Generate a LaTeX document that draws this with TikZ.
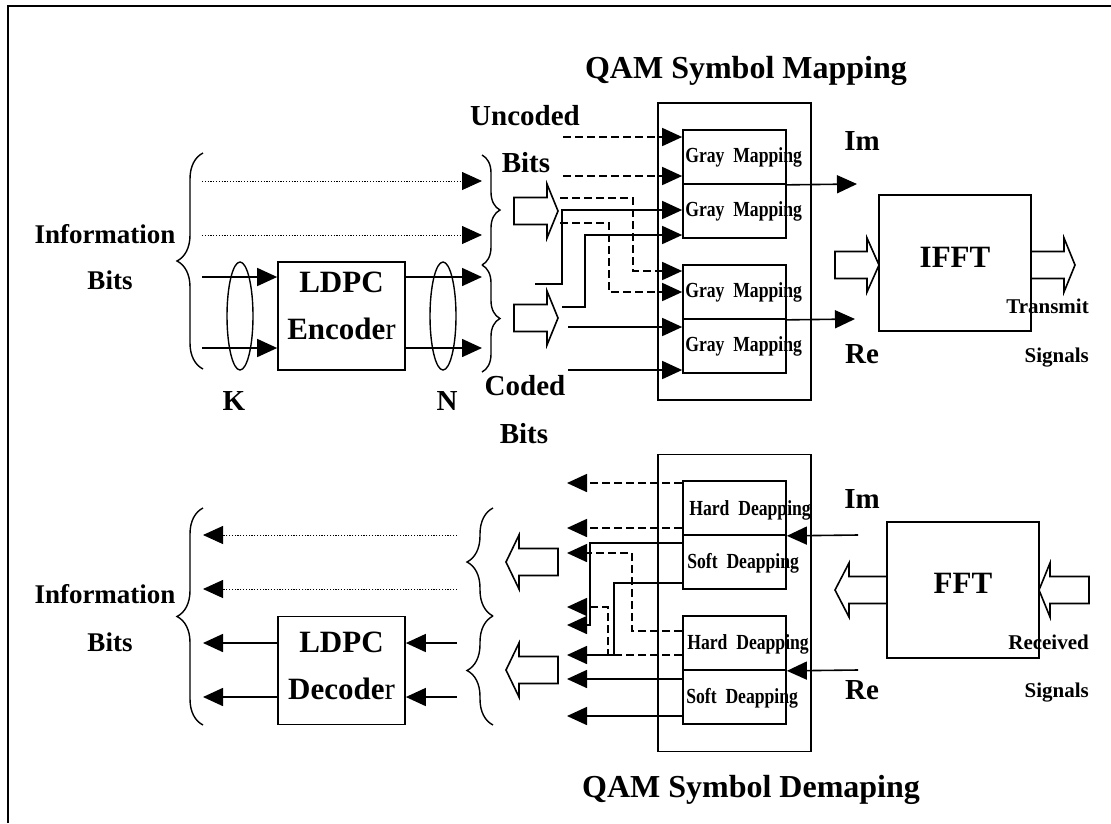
\documentclass[tikz,border=0pt]{standalone}
\usepackage{fontspec}
\setmainfont{Liberation Serif}
\newfontfamily\narrowfont{Liberation Serif}[FakeStretch=0.82]
\usetikzlibrary{arrows.meta,shapes.geometric,decorations.pathreplacing}
\newcommand{\hollowarrow}[4]{%
  \draw[fat] (#1,#4-13.5) -- (#2,#4-13.5) -- (#2,#4-27) -- (#3,#4)
    -- (#2,#4+27) -- (#2,#4+13.5) -- (#1,#4+13.5) -- cycle;}

\begin{document}
\begin{tikzpicture}[x=1pt, y=-1pt,
  arr/.style={-{Triangle[length=20pt,width=18pt]}, line width=1.6pt},
  darr/.style={arr, dash pattern=on 8pt off 4pt},
  oarr/.style={arr, line width=0.9pt, dash pattern=on 1.2pt off 1.6pt},
  blk/.style={draw, line width=1.7pt, inner sep=0pt},
  mbox/.style={blk, minimum width=153pt, minimum height=297pt},
  ibox/.style={blk, minimum width=103pt, minimum height=54pt},
  cbox/.style={blk, minimum width=127pt, minimum height=108pt, align=center,
               font=\fontsize{31}{47}\selectfont\bfseries},
  fbox/.style={blk, minimum width=152pt, minimum height=136pt,
               font=\fontsize{31}{36}\selectfont\bfseries},
  ttl/.style={inner sep=0pt, anchor=base, font=\fontsize{32}{38}\selectfont\bfseries},
  lbl/.style={inner sep=0pt, anchor=base, font=\fontsize{29}{34}\selectfont\bfseries},
  inf/.style={inner sep=0pt, anchor=base, font=\fontsize{27}{32}\selectfont\bfseries},
  sig/.style={inner sep=0pt, anchor=base east, font=\fontsize{21}{25}\selectfont\bfseries},
  mtxt/.style={inner sep=0pt, anchor=west, font=\narrowfont\fontsize{21.5}{25}\selectfont\bfseries},
  ell/.style={draw, ellipse, line width=1.4pt, minimum width=26pt, minimum height=108pt, inner sep=0pt},
  brc/.style={decorate, decoration={brace, amplitude=#1}, line width=1.4pt},
  fat/.style={line width=1.6pt, fill=white},
]
\useasboundingbox (0,0) rectangle (1111,823);
\draw[line width=2.4pt] (8,823) -- (8,6) -- (1111,6);

\node[ttl] (ttlmap) at (746,78) {QAM Symbol Mapping};
\node[ttl] (ttldem) at (751,797) {QAM Symbol Demaping};

\node[inf] (infoT) at (105,243) {Information};
\node[inf] (bitsT) at (110,289) {Bits};
\node[inf] (infoR) at (105,603) {Information};
\node[inf] (bitsR) at (110,651) {Bits};

\node[cbox, text depth=20pt] (enc) at (341.5,316) {LDPC\\Encode{\mdseries r}};
\node[cbox, text depth=9pt]  (dec) at (341.5,670.5) {LDPC\\Decode{\mdseries r}};
\node[ell] (kE) at (240,316) {};
\node[ell] (nE) at (443,316) {};
\node[lbl] (kL) at (234,410) {K};
\node[lbl] (nL) at (447,410) {N};

\node[lbl] (uncL)  at (525,125) {Uncoded};
\node[lbl] (ubitL) at (526,172) {Bits};
\node[lbl] (codL)  at (525,395) {Coded};
\node[lbl] (cbitL) at (524,443) {Bits};

\node[mbox] (qm) at (734.5,251.5) {};
\node[ibox] (gm1) at (734.5,157) {};
\node[ibox] (gm2) at (734.5,211) {};
\node[ibox] (gm3) at (734.5,292) {};
\node[ibox] (gm4) at (734.5,346) {};
\node[mtxt] (gm1t) at ([xshift=3pt]gm1.west) {Gray\ \ Mapping};
\node[mtxt] (gm2t) at ([xshift=3pt]gm2.west) {Gray\ \ Mapping};
\node[mtxt] (gm3t) at ([xshift=3pt]gm3.west) {Gray\ \ Mapping};
\node[mtxt] (gm4t) at ([xshift=3pt]gm4.west) {Gray\ \ Mapping};

\node[mbox] (qd) at (734.5,603) {};
\node[ibox] (hd1) at (734.5,508) {};
\node[ibox] (sd1) at (734.5,562) {};
\node[ibox] (hd2) at (734.5,643) {};
\node[ibox] (sd2) at (734.5,697) {};
\node[mtxt] (hd1t) at ([xshift=7pt,yshift=-2pt]hd1.west) {Hard\ \ Deapping};
\node[mtxt] (sd1t) at ([xshift=5pt,yshift=-1pt]sd1.west) {Soft\ \ Deapping};
\node[mtxt] (hd2t) at ([xshift=5pt,yshift=-1pt]hd2.west) {Hard\ \ Deapping};
\node[mtxt] (sd2t) at ([xshift=4pt,yshift=-1pt]sd2.west) {Soft\ \ Deapping};

\node[fbox, text depth=12pt] (ifft) at (955,263) {IFFT};
\node[fbox, text depth=13pt] (fft)  at (963,590) {FFT};
\node[lbl] (imT) at (862,150) {Im};
\node[lbl] (reT) at (862,363) {Re};
\node[lbl] (imR) at (862,508) {Im};
\node[lbl] (reR) at (862,699) {Re};
\node[sig] (txA) at (1089,313) {Transmit};
\node[sig] (txB) at (1089,362) {Signals};
\node[sig] (rxA) at (1089,649) {Received};
\node[sig] (rxB) at (1089,697) {Signals};

\draw[brc=26pt] (203,369) -- (203,153);
\draw[brc=18pt] (482,155) -- (482,265);
\draw[brc=18pt] (482,265) -- (482,372);
\draw[brc=26pt] (203,725) -- (203,508);
\draw[brc=26pt] (493,616) -- (493,508);
\draw[brc=26pt] (493,725) -- (493,616);

\coordinate (i1) at (202,181); \coordinate (o1) at (482,181);
\coordinate (i2) at (202,235); \coordinate (o2) at (482,235);
\draw[oarr] (i1) -- (o1);
\draw[oarr] (i2) -- (o2);
\coordinate (k1) at (202,277); \coordinate (n1) at (482,277);
\coordinate (k2) at (202,348); \coordinate (n2) at (482,348);
\draw[arr] (k1) -- (k1 -| enc.west);
\draw[arr] (k2) -- (k2 -| enc.west);
\draw[arr] (n1 -| enc.east) -- (n1);
\draw[arr] (n2 -| enc.east) -- (n2);

\coordinate (p1) at (457,535); \coordinate (q1) at (203,535);
\coordinate (p2) at (457,589); \coordinate (q2) at (203,589);
\draw[oarr] (p1) -- (q1);
\draw[oarr] (p2) -- (q2);
\coordinate (e1) at (457,643); \coordinate (d1) at (203,643);
\coordinate (e2) at (457,697); \coordinate (d2) at (203,697);
\draw[arr] (e1) -- (e1 -| dec.east);
\draw[arr] (e2) -- (e2 -| dec.east);
\draw[arr] (d1 -| dec.west) -- (d1);
\draw[arr] (d2 -| dec.west) -- (d2);

\hollowarrow{514}{547}{558}{211}
\hollowarrow{514}{547}{558}{318}
\hollowarrow{835}{867}{879}{265}
\hollowarrow{1031}{1064}{1075}{265}
\hollowarrow{558}{519}{506}{562}
\hollowarrow{558}{519}{506}{670}
\hollowarrow{887}{849}{835}{590}
\hollowarrow{1089}{1050}{1039}{590}

\coordinate (u1) at (563,137);
\coordinate (u2) at (563,176);
\coordinate (ca) at (535,284);
\coordinate (cb) at (562,307);
\coordinate (ce) at (560,198);
\coordinate (cf) at (560,223);
\coordinate (cc) at (568,327);
\coordinate (cd) at (568,370);
\draw[darr] (u1) -- (u1 -| gm1.west);
\draw[darr] (u2) -- (u2 -| gm1.west);
\draw[darr] (ce) -- ++(73,0) |- ([yshift=21pt]gm3.west);
\draw[darr] (cf) -- ++(49,0) |- (gm3.west);
\draw[arr] (ca) -- ++(27,0) |- ([yshift=1pt]gm2.west);
\draw[arr] (cb) -- ++(23,0) |- ([yshift=-24pt]gm2.west);
\draw[arr] (cc) -- (cc -| gm4.west);
\draw[arr] (cd) -- (cd -| gm4.west);
\coordinate (imo) at (857,184);
\coordinate (reo) at (855,319);
\draw[arr] (gm1.south east) -- (imo);
\draw[arr] (gm3.south east) -- (reo);

\coordinate (r1) at (567,483);
\coordinate (r2) at (567,528);
\coordinate (r3) at (567,625);
\coordinate (r4) at (567,553);
\coordinate (r5) at (567,655);
\coordinate (r6) at (567,607);
\coordinate (r7) at (567,679);
\coordinate (r8) at (567,716);
\draw[darr] (r1 -| hd1.west) -- (r1);
\draw[darr] (r2 -| hd1.west) -- (r2);
\draw[arr] ([yshift=19pt]sd1.west) -- ++(-92,0) |- (r3);
\draw[darr] ([yshift=12pt]hd2.west) -- ++(-50,0) |- (r4);
\draw[arr] ([yshift=-21pt]sd1.west) -- ++(-68,0) |- (r5);
\draw[darr] ([yshift=-12pt]hd2.west) -- ++(-74,0) |- (r6);
\draw[arr] (r7 -| sd2.west) -- (r7);
\draw[arr] (r8 -| sd2.west) -- (r8);
\coordinate (imi) at (858,535);
\coordinate (rei) at (858,670);
\draw[arr] (imi) -- (hd1.south east);
\draw[arr] (rei) -- (hd2.south east);
\end{tikzpicture}
\end{document}
